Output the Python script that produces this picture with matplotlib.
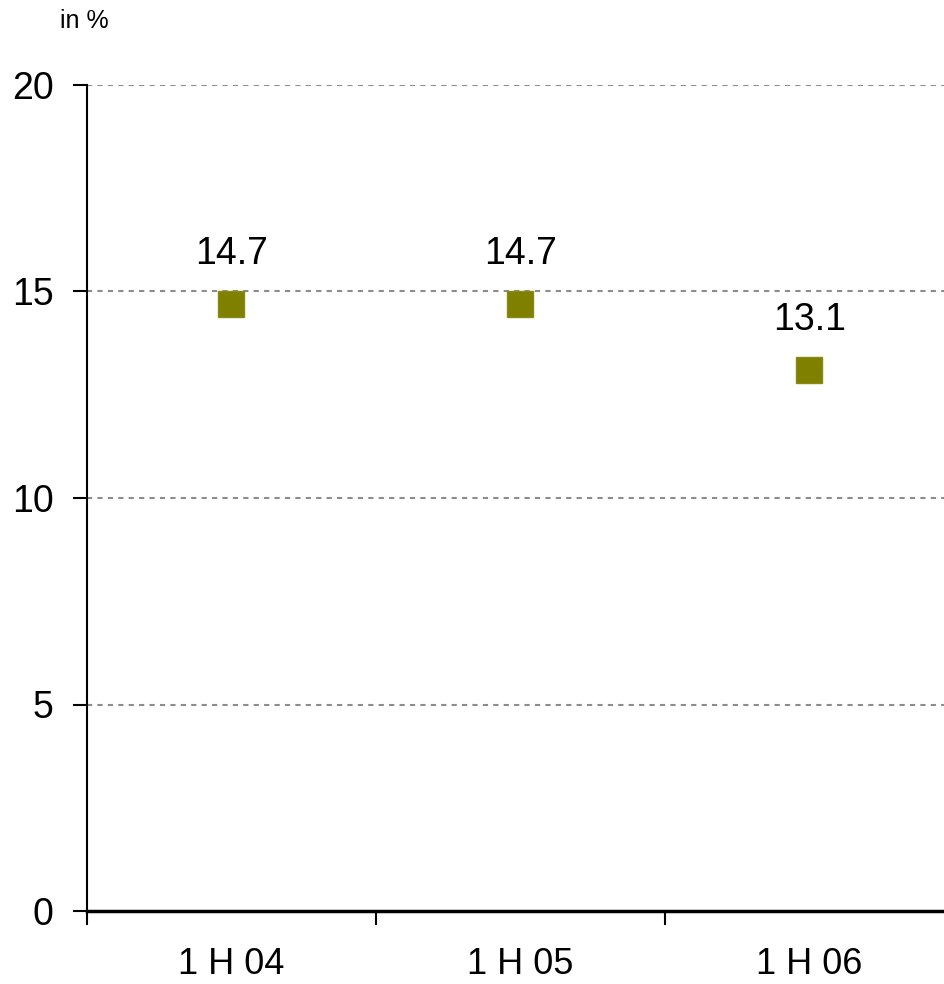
import matplotlib.pyplot as plt

plt.rcParams['font.family'] = ['Liberation Sans', 'DejaVu Sans']

periods = ['1 H 04', '1 H 05', '1 H 06']
values = [14.7, 14.7, 13.1]
y_ticks = [0, 5, 10, 15, 20]

fig = plt.figure(figsize=(9.45, 9.84), dpi=100)
ax = fig.add_axes([87 / 945, 73 / 984, 858 / 945, 826 / 984])

x = range(len(periods))
ax.plot(x, values, linestyle='none', marker='s', markersize=19,
        color='#808000', markeredgecolor='#8a8a10', zorder=3)
for xi, v in zip(x, values):
    ax.annotate(f'{v:.1f}', (xi, v), xytext=(0, 36), textcoords='offset points',
                ha='center', va='center', fontsize=27)

ax.set_ylim(0, 20)
ax.set_xlim(-0.5, 2.469)
ax.set_yticks(y_ticks)
ax.set_xticks([-0.5, 0.5, 1.5])
ax.set_xticklabels([])
ax.set_xticks(list(x), minor=True)
ax.set_xticklabels(periods, minor=True)
ax.tick_params(axis='x', which='minor', length=0, pad=26, labelsize=26)
ax.tick_params(axis='x', which='major', length=10, width=1.5, direction='out')
ax.tick_params(axis='y', length=10, width=1.5, direction='out', pad=14, labelsize=27)

for t in y_ticks[1:]:
    ax.axhline(t, color='#8c8c8c', linestyle=(0, (2.5, 2.5)), linewidth=1.5, zorder=1)

for side in ['top', 'right']:
    ax.spines[side].set_visible(False)
ax.spines['left'].set_linewidth(1.5)
ax.spines['bottom'].set_linewidth(2.5)

fig.text(84 / 945, 1 - 21 / 984, 'in %', ha='center', va='center', fontsize=18)

fig.savefig('out.png', dpi=100)
